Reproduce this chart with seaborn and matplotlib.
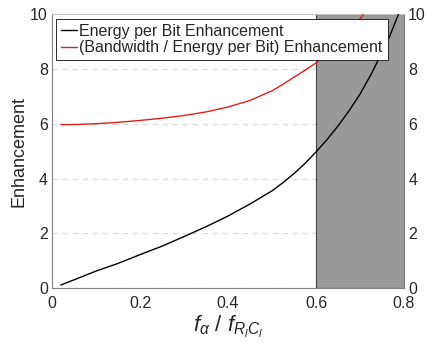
import matplotlib
matplotlib.use("Agg")
import matplotlib.pyplot as plt
import seaborn as sns
import pandas as pd

# values
x_energy = [0.02, 0.05, 0.1, 0.15, 0.2, 0.25, 0.3, 0.35, 0.4, 0.45, 0.5,
            0.525, 0.55, 0.575, 0.6, 0.625, 0.65, 0.675, 0.7, 0.725, 0.75,
            0.765, 0.775, 0.79]
y_energy = [0.11, 0.3, 0.62, 0.9, 1.22, 1.53, 1.88, 2.24, 2.63, 3.07, 3.55,
            3.85, 4.18, 4.55, 4.97, 5.42, 5.92, 6.47, 7.08, 7.8, 8.6,
            9.1, 9.5, 10.1]

x_bw = [0.02, 0.05, 0.1, 0.15, 0.2, 0.25, 0.3, 0.35, 0.4, 0.45, 0.5,
        0.525, 0.55, 0.575, 0.6, 0.625, 0.65, 0.675, 0.7, 0.71]
y_bw = [5.97, 5.97, 6.0, 6.05, 6.12, 6.2, 6.3, 6.43, 6.61, 6.85, 7.2,
        7.44, 7.7, 7.95, 8.22, 8.55, 8.92, 9.35, 9.83, 10.05]

shade_start, shade_end = 0.6, 0.8
labels = ["Energy per Bit Enhancement", "(Bandwidth / Energy per Bit) Enhancement"]

df = pd.concat([
    pd.DataFrame({"x": x_energy, "y": y_energy, "series": labels[0]}),
    pd.DataFrame({"x": x_bw, "y": y_bw, "series": labels[1]}),
])

sns.set_style("white")
plt.rcParams["font.family"] = ["Liberation Sans", "DejaVu Sans"]
plt.rcParams["mathtext.fontset"] = "custom"
plt.rcParams["mathtext.rm"] = "Liberation Sans"
plt.rcParams["mathtext.it"] = "Liberation Sans:italic"

fig = plt.figure(figsize=(4.28, 3.45), dpi=100)
ax = fig.add_axes([0.1215, 0.165, 0.8225, 0.794])

ax.axvspan(shade_start, shade_end, facecolor="#999999", edgecolor="#404040",
           linewidth=0.8, zorder=1)

sns.lineplot(data=df, x="x", y="y", hue="series", palette=["black", "#e0201b"],
             linewidth=1.0, ax=ax, zorder=3, sort=False)

ax.set_xlim(0, 0.8)
ax.set_ylim(0, 10)
ax.set_xticks([0, 0.2, 0.4, 0.6, 0.8])
ax.set_xticklabels(["0", "0.2", "0.4", "0.6", "0.8"])
ax.set_yticks([0, 2, 4, 6, 8, 10])

ax.set_axisbelow(True)
ax.yaxis.grid(True, linestyle=(0, (5, 4)), color="#d9d9d9", linewidth=0.8)
ax.xaxis.grid(False)

ax.tick_params(axis="both", direction="in", length=3, width=0.6,
               labelsize=11.5, colors="#7f7f7f", labelcolor="#262626")
ax.tick_params(axis="x", pad=6)
ax.tick_params(axis="y", right=True, labelright=True, pad=3)
for side in ["left", "bottom", "right"]:
    ax.spines[side].set_color("#808080")
    ax.spines[side].set_linewidth(0.8)
ax.spines["top"].set_color("#c8c8c8")

ax.set_ylabel("Enhancement", fontsize=13, color="#262626", labelpad=2)
ax.set_xlabel(r"$f_{\alpha}\ /\ f_{R_{l}C_{l}}$", fontsize=16, color="#262626", labelpad=2)

leg = ax.legend(loc="upper left", bbox_to_anchor=(0.012, 0.982), fontsize=11.5,
                frameon=True, fancybox=False, handlelength=1.0, handletextpad=0.15,
                labelspacing=0.1, borderpad=0.3, borderaxespad=0.0)
leg.get_frame().set_edgecolor("#262626")
leg.get_frame().set_linewidth(0.7)
leg.get_frame().set_alpha(1.0)
leg.set_zorder(5)

fig.savefig("out.png", dpi=100)
